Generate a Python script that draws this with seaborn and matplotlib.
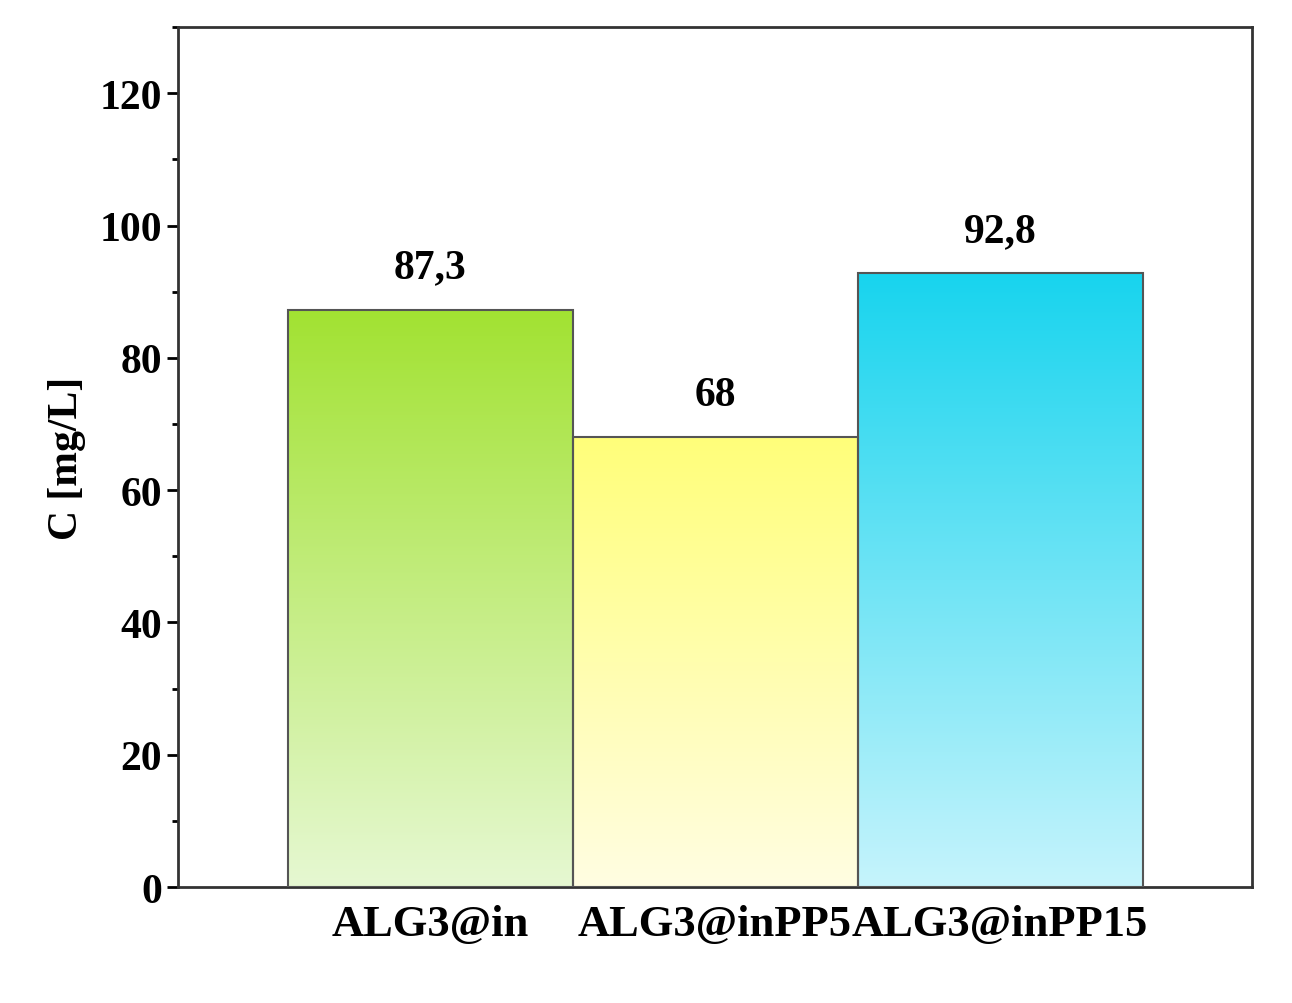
import numpy as np
import pandas as pd
import seaborn as sns
import matplotlib.pyplot as plt
from matplotlib.colors import LinearSegmentedColormap
from matplotlib.ticker import MultipleLocator

samples = ["ALG3@in", "ALG3@inPP5", "ALG3@inPP15"]
conc = [87.3, 68, 92.8]
labels = ["87,3", "68", "92,8"]
top_colors = ["#a2e232", "#ffff7a", "#18d4ee"]
bottom_colors = ["#e6f8d2", "#fffde2", "#c6f4fc"]

sns.set_style("ticks")
plt.rcParams['font.family'] = ['Liberation Serif', 'DejaVu Serif']
plt.rcParams['font.weight'] = 'bold'
plt.rcParams['text.color'] = 'black'
plt.rcParams['xtick.color'] = 'black'
plt.rcParams['ytick.color'] = 'black'
plt.rcParams['axes.labelcolor'] = 'black'

df = pd.DataFrame({"sample": samples, "C": conc})

fig = plt.figure(figsize=(12.92, 10.04), dpi=100)
ax = fig.add_axes([0.138, 0.1155, 0.831, 0.8565])
sns.barplot(data=df, x="sample", y="C", width=1.0, color="white",
            edgecolor="#555555", linewidth=1.5, ax=ax)

# gradient fill clipped to each bar
for i, patch in enumerate(ax.patches):
    x0, y0 = patch.get_x(), patch.get_y()
    w, h = patch.get_width(), patch.get_height()
    cmap = LinearSegmentedColormap.from_list("g", [bottom_colors[i], top_colors[i]])
    grad = np.linspace(0, 1, 256).reshape(-1, 1)
    im = ax.imshow(grad, cmap=cmap, origin="lower", aspect="auto",
                   extent=[x0, x0 + w, y0, y0 + h], zorder=patch.get_zorder() - 0.1)
    im.set_clip_path(patch)
    patch.set_facecolor("none")
    patch.set_zorder(3)
    ax.text(x0 + w / 2, h + 3.5, labels[i], ha="center", va="bottom",
            fontsize=30, fontweight="bold")

ax.set_xlim(-0.884, 2.884)
ax.set_ylim(0, 130)
ax.yaxis.set_major_locator(MultipleLocator(20))
ax.yaxis.set_minor_locator(MultipleLocator(10))
ax.tick_params(axis="y", which="major", direction="out", length=8, width=2, labelsize=30)
ax.tick_params(axis="y", which="minor", direction="out", length=4, width=2)
ax.tick_params(axis="x", length=0, labelsize=32, pad=12)
for lab in ax.get_xticklabels() + ax.get_yticklabels():
    lab.set_fontweight("bold")
ax.set_xlabel("")
ax.set_ylabel("C [mg/L]", fontsize=30, fontweight="bold", labelpad=10)
for s in ax.spines.values():
    s.set_visible(True)
    s.set_linewidth(2)
    s.set_color("#333333")

fig.savefig("out.png", dpi=100)
